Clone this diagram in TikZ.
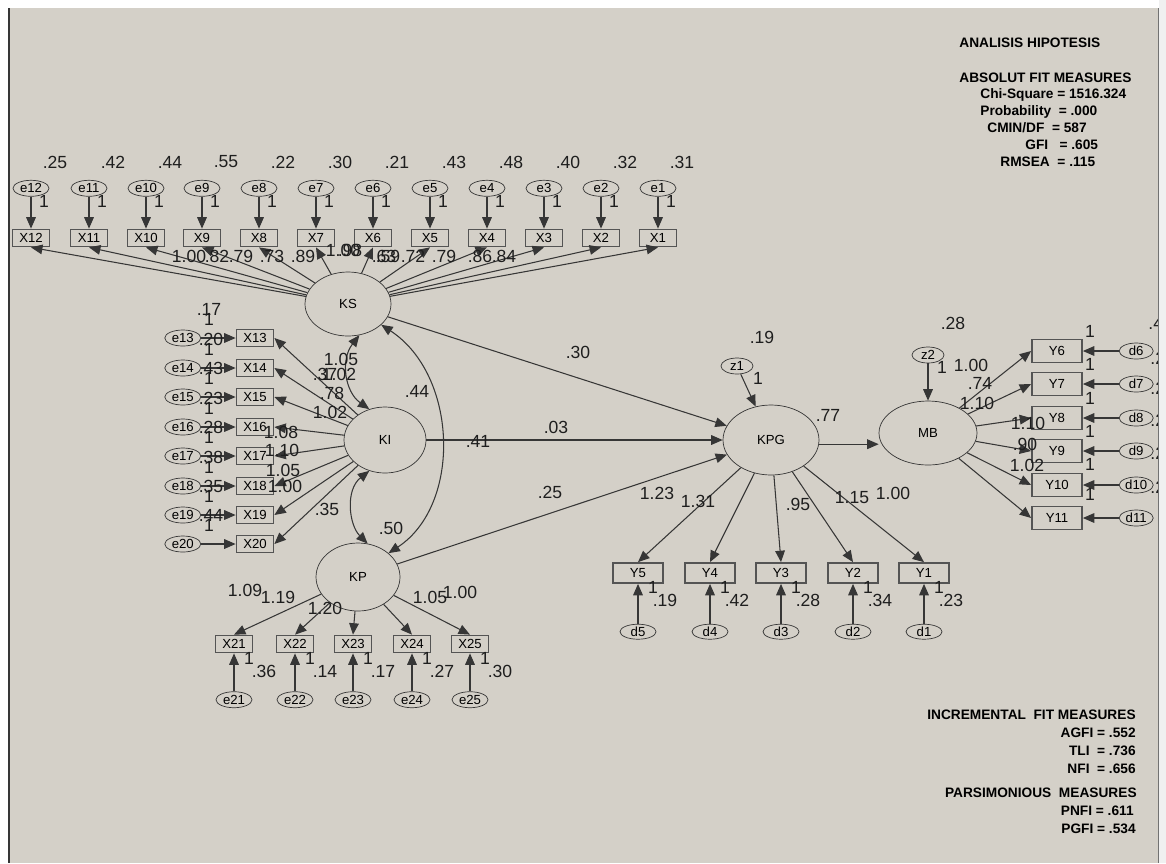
\documentclass[tikz,border=0pt]{standalone}
\usepackage{fontspec}
\setmainfont{Liberation Sans}
\usetikzlibrary{arrows.meta,positioning,shapes.geometric}
\definecolor{AmosBack}{HTML}{D4D0C8}
\definecolor{AmosLine}{HTML}{363636}
\definecolor{AmosText}{HTML}{1E1E1E}
\definecolor{AmosEdge}{HTML}{F0F0F0}

\begin{document}
\begin{tikzpicture}[x=0.02cm,y=-0.02cm,
  latent/.style={ellipse,draw=AmosLine,fill=AmosBack,inner sep=0pt,font=\fontsize{7.5}{8}\selectfont},
  obs/.style={rectangle,draw=AmosLine!85,line width=1pt,fill=AmosBack,inner sep=0pt,minimum width=0.74cm,minimum height=0.34cm,font=\fontsize{7.5}{8}\selectfont},
  err/.style={ellipse,draw=AmosLine,fill=AmosBack,inner sep=0pt,minimum width=0.72cm,minimum height=0.32cm,font=\fontsize{7.5}{8}\selectfont},
  num/.style={inner sep=0pt,text=AmosText,font=\fontsize{10}{11}\selectfont},
  fit/.style={inner sep=0pt,text=black,font=\bfseries\fontsize{7.8}{9}\selectfont},
  arrow/.style={-{Triangle[length=6.5pt,width=5.5pt]},draw=AmosLine,line width=0.6pt},
  cov/.style={{Triangle[length=6.5pt,width=5.5pt]}-{Triangle[length=6.5pt,width=5.5pt]},draw=AmosLine,line width=0.6pt}
]
\useasboundingbox (0,0) rectangle (1166,863);
\fill[white] (0,0) rectangle (1166,863);
\fill[AmosBack] (9,8) rectangle (1158,863);

% latent variables
\node[latent,minimum width=1.72cm,minimum height=1.28cm] (KS) at (348,304) {KS};
\node[latent,minimum width=1.64cm,minimum height=1.32cm] (KI) at (385,440) {KI};
\node[latent,minimum width=1.68cm,minimum height=1.36cm] (KP) at (358,577) {KP};
\node[latent,minimum width=1.92cm,minimum height=1.40cm] (KPG) at (771,440) {KPG};
\node[latent,minimum width=1.96cm,minimum height=1.28cm] (MB) at (928,433) {MB};
\node[err,minimum width=0.64cm] (z1) at (737,366) {z1};
\node[err,minimum width=0.64cm] (z2) at (928,355) {z2};

% KS indicators
\node[obs] (X12) at (31,238) {X12};
\node[obs] (X11) at (89,238) {X11};
\node[obs] (X10) at (146,238) {X10};
\node[obs] (X9) at (202,238) {X9};
\node[obs] (X8) at (259,238) {X8};
\node[obs] (X7) at (316,238) {X7};
\node[obs] (X6) at (373,238) {X6};
\node[obs] (X5) at (430,238) {X5};
\node[obs] (X4) at (487,238) {X4};
\node[obs] (X3) at (544,238) {X3};
\node[obs] (X2) at (601,238) {X2};
\node[obs] (X1) at (658,238) {X1};
\node[err,above=0.64cm of X12] (e12) {e12};
\node[err,above=0.64cm of X11] (e11) {e11};
\node[err,above=0.64cm of X10] (e10) {e10};
\node[err,above=0.64cm of X9] (e9) {e9};
\node[err,above=0.64cm of X8] (e8) {e8};
\node[err,above=0.64cm of X7] (e7) {e7};
\node[err,above=0.64cm of X6] (e6) {e6};
\node[err,above=0.64cm of X5] (e5) {e5};
\node[err,above=0.64cm of X4] (e4) {e4};
\node[err,above=0.64cm of X3] (e3) {e3};
\node[err,above=0.64cm of X2] (e2) {e2};
\node[err,above=0.64cm of X1] (e1) {e1};

% KI indicators
\node[obs] (X13) at (255,338) {X13};
\node[obs] (X14) at (255,368) {X14};
\node[obs] (X15) at (255,397) {X15};
\node[obs] (X16) at (255,427) {X16};
\node[obs] (X17) at (255,456) {X17};
\node[obs] (X18) at (255,486) {X18};
\node[obs] (X19) at (255,515) {X19};
\node[obs] (X20) at (255,544) {X20};
\node[err,left=0.69cm of X13] (e13) {e13};
\node[err,left=0.69cm of X14] (e14) {e14};
\node[err,left=0.69cm of X15] (e15) {e15};
\node[err,left=0.69cm of X16] (e16) {e16};
\node[err,left=0.69cm of X17] (e17) {e17};
\node[err,left=0.69cm of X18] (e18) {e18};
\node[err,left=0.69cm of X19] (e19) {e19};
\node[err,left=0.69cm of X20] (e20) {e20};

% KP indicators
\node[obs] (X21) at (234,644) {X21};
\node[obs] (X22) at (295,644) {X22};
\node[obs] (X23) at (353,644) {X23};
\node[obs] (X24) at (412,644) {X24};
\node[obs] (X25) at (470,644) {X25};
\node[err,below=0.76cm of X21] (e21) {e21};
\node[err,below=0.76cm of X22] (e22) {e22};
\node[err,below=0.76cm of X23] (e23) {e23};
\node[err,below=0.76cm of X24] (e24) {e24};
\node[err,below=0.76cm of X25] (e25) {e25};

% KPG indicators
\node[obs,minimum width=1cm,minimum height=0.4cm] (Y5) at (638,573) {Y5};
\node[obs,minimum width=1cm,minimum height=0.4cm] (Y4) at (710,573) {Y4};
\node[obs,minimum width=1cm,minimum height=0.4cm] (Y3) at (781,573) {Y3};
\node[obs,minimum width=1cm,minimum height=0.4cm] (Y2) at (853,573) {Y2};
\node[obs,minimum width=1cm,minimum height=0.4cm] (Y1) at (924,573) {Y1};
\node[err,minimum height=0.3cm,below=0.8cm of Y5] (d5) {d5};
\node[err,minimum height=0.3cm,below=0.8cm of Y4] (d4) {d4};
\node[err,minimum height=0.3cm,below=0.8cm of Y3] (d3) {d3};
\node[err,minimum height=0.3cm,below=0.8cm of Y2] (d2) {d2};
\node[err,minimum height=0.3cm,below=0.8cm of Y1] (d1) {d1};

% MB indicators
\node[obs,minimum width=1cm,minimum height=0.46cm] (Y6) at (1057,351) {Y6};
\node[obs,minimum width=1cm,minimum height=0.46cm] (Y7) at (1057,384) {Y7};
\node[obs,minimum width=1cm,minimum height=0.46cm] (Y8) at (1057,418) {Y8};
\node[obs,minimum width=1cm,minimum height=0.46cm] (Y9) at (1057,451) {Y9};
\node[obs,minimum width=1cm,minimum height=0.46cm] (Y10) at (1057,485) {Y10};
\node[obs,minimum width=1cm,minimum height=0.46cm] (Y11) at (1057,518) {Y11};
\node[err,minimum width=0.68cm,right=0.72cm of Y6] (d6) {d6};
\node[err,minimum width=0.68cm,right=0.72cm of Y7] (d7) {d7};
\node[err,minimum width=0.68cm,right=0.72cm of Y8] (d8) {d8};
\node[err,minimum width=0.68cm,right=0.72cm of Y9] (d9) {d9};
\node[err,minimum width=0.68cm,right=0.72cm of Y10] (d10) {d10};
\node[err,minimum width=0.68cm,right=0.72cm of Y11] (d11) {d11};

% covariances
\draw[cov] (KS.-70) .. controls (340,360) and (345,392) .. (KI.117);
\draw[cov] (KS.-32) .. controls (458,375) and (462,505) .. (KP.38);
\draw[cov] (KI.-117) .. controls (345,490) and (349,525) .. (KP.74);

% structural paths
\draw[arrow] (KS) -- (KPG);
\draw[arrow] (KI) -- (KPG);
\draw[arrow] (KP) -- (KPG);
\draw[arrow] (KPG.-5) -- (KPG.-5 -| MB.west);
\draw[arrow] (z1) -- (KPG);
\draw[arrow] (z2) -- (MB);

% loadings and errors
\draw[arrow] (KS) -- (X12.south);
\draw[arrow] (KS) -- (X11.south);
\draw[arrow] (KS) -- (X10.south);
\draw[arrow] (KS) -- (X9.south);
\draw[arrow] (KS) -- (X8.south);
\draw[arrow] (KS) -- (X7.south);
\draw[arrow] (KS) -- (X6.south);
\draw[arrow] (KS) -- (X5.south);
\draw[arrow] (KS) -- (X4.south);
\draw[arrow] (KS) -- (X3.south);
\draw[arrow] (KS) -- (X2.south);
\draw[arrow] (KS) -- (X1.south);
\draw[arrow] (e12) -- (X12);
\draw[arrow] (e11) -- (X11);
\draw[arrow] (e10) -- (X10);
\draw[arrow] (e9) -- (X9);
\draw[arrow] (e8) -- (X8);
\draw[arrow] (e7) -- (X7);
\draw[arrow] (e6) -- (X6);
\draw[arrow] (e5) -- (X5);
\draw[arrow] (e4) -- (X4);
\draw[arrow] (e3) -- (X3);
\draw[arrow] (e2) -- (X2);
\draw[arrow] (e1) -- (X1);
\draw[arrow] (KI) -- (X13.east);
\draw[arrow] (KI) -- (X14.east);
\draw[arrow] (KI) -- (X15.east);
\draw[arrow] (KI) -- (X16.east);
\draw[arrow] (KI) -- (X17.east);
\draw[arrow] (KI) -- (X18.east);
\draw[arrow] (KI) -- (X19.east);
\draw[arrow] (KI) -- (X20.east);
\draw[arrow] (e13) -- (X13);
\draw[arrow] (e14) -- (X14);
\draw[arrow] (e15) -- (X15);
\draw[arrow] (e16) -- (X16);
\draw[arrow] (e17) -- (X17);
\draw[arrow] (e18) -- (X18);
\draw[arrow] (e19) -- (X19);
\draw[arrow] (e20) -- (X20);
\draw[arrow] (KP) -- (X21.north);
\draw[arrow] (KP) -- (X22.north);
\draw[arrow] (KP) -- (X23.north);
\draw[arrow] (KP) -- (X24.north);
\draw[arrow] (KP) -- (X25.north);
\draw[arrow] (e21) -- (X21);
\draw[arrow] (e22) -- (X22);
\draw[arrow] (e23) -- (X23);
\draw[arrow] (e24) -- (X24);
\draw[arrow] (e25) -- (X25);
\draw[arrow] (KPG) -- (Y5.north);
\draw[arrow] (KPG) -- (Y4.north);
\draw[arrow] (KPG) -- (Y3.north);
\draw[arrow] (KPG) -- (Y2.north);
\draw[arrow] (KPG) -- (Y1.north);
\draw[arrow] (d5) -- (Y5);
\draw[arrow] (d4) -- (Y4);
\draw[arrow] (d3) -- (Y3);
\draw[arrow] (d2) -- (Y2);
\draw[arrow] (d1) -- (Y1);
\draw[arrow] (MB) -- (Y6.west);
\draw[arrow] (MB) -- (Y7.west);
\draw[arrow] (MB) -- (Y8.west);
\draw[arrow] (MB) -- (Y9.west);
\draw[arrow] (MB) -- (Y10.west);
\draw[arrow] (MB) -- (Y11.west);
\draw[arrow] (d6) -- (Y6);
\draw[arrow] (d7) -- (Y7);
\draw[arrow] (d8) -- (Y8);
\draw[arrow] (d9) -- (Y9);
\draw[arrow] (d10) -- (Y10);
\draw[arrow] (d11) -- (Y11);

% estimates, top row
\node[num] (v12) at (55,162) {.25};
\node[num] (v11) at (113,162) {.42};
\node[num] (v10) at (170,162) {.44};
\node[num] (v9) at (226,162) {.55};
\node[num] (v8) at (283,162) {.22};
\node[num] (v7) at (340,162) {.30};
\node[num] (v6) at (397,162) {.21};
\node[num] (v5) at (454,162) {.43};
\node[num] (v4) at (511,162) {.48};
\node[num] (v3) at (568,162) {.40};
\node[num] (v2) at (625,162) {.32};
\node[num] (v1) at (682,162) {.31};
\node[num] (f12) at (44,201) {1};
\node[num] (f11) at (102,201) {1};
\node[num] (f10) at (159,201) {1};
\node[num] (f9) at (215,201) {1};
\node[num] (f8) at (272,201) {1};
\node[num] (f7) at (329,201) {1};
\node[num] (f6) at (386,201) {1};
\node[num] (f5) at (443,201) {1};
\node[num] (f4) at (500,201) {1};
\node[num] (f3) at (557,201) {1};
\node[num] (f2) at (614,201) {1};
\node[num] (f1) at (671,201) {1};
\node[num] (w12) at (189,256) {1.00};
\node[num] (w11) at (217,256) {.82};
\node[num] (w10) at (241,256) {.79};
\node[num] (w9) at (272,256) {.73};
\node[num] (w8) at (303,256) {.89};
\node[num] (w7) at (343,250) {1.00};
\node[num] (w6) at (350,250) {.98};
\node[num] (w5) at (384,256) {.63};
\node[num] (w4) at (388,256) {.59};
\node[num] (w3) at (413,256) {.72};
\node[num] (w2) at (444,256) {.79};
\node[num] (w1) at (480,256) {.86};
\node[num] (w0) at (504,256) {.84};

% estimates, KI side
\node[num] (v13) at (209,309) {.17};
\node[num] (v14) at (211,339) {.20};
\node[num] (v15) at (211,368) {.43};
\node[num] (v16) at (211,398) {.23};
\node[num] (v17) at (211,427) {.28};
\node[num] (v18) at (211,457) {.38};
\node[num] (v19) at (211,486) {.35};
\node[num] (v20) at (211,515) {.44};
\node[num] (f13) at (209,319) {1};
\node[num] (f14) at (209,349) {1};
\node[num] (f15) at (209,378) {1};
\node[num] (f16) at (209,408) {1};
\node[num] (f17) at (209,437) {1};
\node[num] (f18) at (209,467) {1};
\node[num] (f19) at (209,496) {1};
\node[num] (f20) at (209,525) {1};
\node[num] (c1) at (341,359) {1.05};
\node[num] (w13) at (325,374) {.37};
\node[num] (w14) at (339,374) {1.02};
\node[num] (w15) at (332,393) {.78};
\node[num] (w16) at (330,412) {1.02};
\node[num] (w17) at (281,432) {1.08};
\node[num] (w18) at (282,450) {1.10};
\node[num] (w19) at (283,470) {1.05};
\node[num] (w20) at (285,486) {1.00};
\node[num] (w21) at (327,509) {.35};
\node[num] (c2) at (417,391) {.44};
\node[num] (c3) at (391,528) {.50};

% estimates, KP side
\node[num] (k21) at (245,590) {1.09};
\node[num] (k22) at (278,597) {1.19};
\node[num] (k23) at (325,608) {1.20};
\node[num] (k24) at (430,597) {1.05};
\node[num] (k25) at (460,592) {1.00};
\node[num] (f21) at (249,658) {1};
\node[num] (f22) at (310,658) {1};
\node[num] (f23) at (368,658) {1};
\node[num] (f24) at (427,658) {1};
\node[num] (f25) at (485,658) {1};
\node[num] (v21) at (264,671) {.36};
\node[num] (v22) at (325,671) {.14};
\node[num] (v23) at (383,671) {.17};
\node[num] (v24) at (442,671) {.27};
\node[num] (v25) at (500,671) {.30};

% estimates, structural
\node[num] (s1) at (578,352) {.30};
\node[num] (s2) at (556,427) {.03};
\node[num] (s3) at (478,441) {.41};
\node[num] (s4) at (550,492) {.25};
\node[num] (s5) at (828,415) {.77};
\node[num] (r1) at (762,337) {.19};
\node[num] (g1) at (758,378) {1};
\node[num] (r2) at (953,323) {.28};
\node[num] (g2) at (942,367) {1};

% estimates, KPG side
\node[num] (p5) at (657,493) {1.23};
\node[num] (p4) at (698,501) {1.31};
\node[num] (p3) at (798,504) {.95};
\node[num] (p2) at (852,498) {1.15};
\node[num] (p1) at (893,493) {1.00};
\node[num] (h5) at (653,587) {1};
\node[num] (h4) at (725,587) {1};
\node[num] (h3) at (796,587) {1};
\node[num] (h2) at (868,587) {1};
\node[num] (h1) at (939,587) {1};
\node[num] (u5) at (665,600) {.19};
\node[num] (u4) at (737,600) {.42};
\node[num] (u3) at (808,600) {.28};
\node[num] (u2) at (880,600) {.34};
\node[num] (u1) at (951,600) {.23};

% estimates, MB side
\node[num] (m6) at (971,365) {1.00};
\node[num] (m7) at (980,383) {.74};
\node[num] (m8) at (977,403) {1.10};
\node[num] (m9) at (1028,423) {1.10};
\node[num] (m10) at (1025,444) {.90};
\node[num] (m11) at (1027,465) {1.02};
\node[num] (h6) at (1090,331) {1};
\node[num] (h7) at (1090,364) {1};
\node[num] (h8) at (1090,398) {1};
\node[num] (h9) at (1090,431) {1};
\node[num] (h10) at (1090,464) {1};
\node[num] (h11) at (1090,494) {1};
\node[num,anchor=west] (u6) at (1148,323) {.40};
\node[num,anchor=west] (u7) at (1150,358) {.22};
\node[num,anchor=west] (u8) at (1150,388) {.20};
\node[num,anchor=west] (u9) at (1150,420) {.21};
\node[num,anchor=west] (u10) at (1150,453) {.23};
\node[num,anchor=west] (u11) at (1150,487) {.23};

% fit measures
\node[fit,anchor=west] (t1) at (959,43) {ANALISIS HIPOTESIS};
\node[fit,anchor=west] (t2) at (959,78) {ABSOLUT FIT MEASURES};
\node[fit,anchor=west] (t3) at (980,95) {Chi-Square = 1516.324};
\node[fit,anchor=west] (t4) at (980,112) {Probability \ = .000};
\node[fit,anchor=west] (t5) at (987,128) {CMIN/DF \ = 587};
\node[fit,anchor=west] (t6) at (1025,145) {GFI \ \ = .605};
\node[fit,anchor=west] (t7) at (1000,162) {RMSEA \ = .115};
\node[fit,anchor=east] (b1) at (1136,715) {INCREMENTAL \ FIT MEASURES};
\node[fit,anchor=east] (b2) at (1136,733) {AGFI = .552};
\node[fit,anchor=east] (b3) at (1136,751) {TLI \ = .736};
\node[fit,anchor=east] (b4) at (1136,769) {NFI \ = .656};
\node[fit,anchor=east] (b5) at (1137,793) {PARSIMONIOUS \ MEASURES};
\node[fit,anchor=east] (b6) at (1134,811) {PNFI = .611};
\node[fit,anchor=east] (b7) at (1136,829) {PGFI = .534};

% window frame
\fill[AmosEdge] (1159,0) rectangle (1166,863);
\draw[AmosLine,line width=1.1pt] (9,8) -- (9,863);
\draw[AmosLine!70,line width=0.8pt] (1158.5,8) -- (1158.5,863);
\end{tikzpicture}
\end{document}
